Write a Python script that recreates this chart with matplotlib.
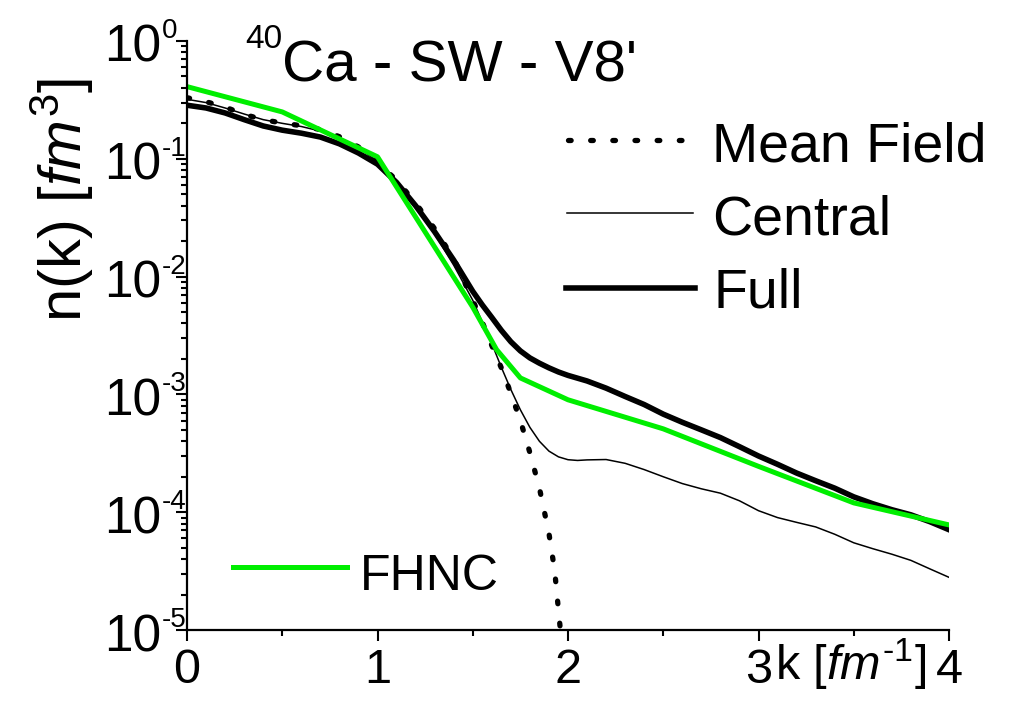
import matplotlib
matplotlib.use("Agg")
import matplotlib.pyplot as plt
import matplotlib.transforms as mtransforms
from matplotlib.ticker import MultipleLocator, LogLocator, NullFormatter

plt.rcParams["font.family"] = ["Liberation Sans", "DejaVu Sans"]
plt.rcParams["mathtext.fontset"] = "custom"
plt.rcParams["mathtext.rm"] = "Liberation Sans"
plt.rcParams["mathtext.it"] = "Liberation Sans:italic"
plt.rcParams["mathtext.bf"] = "Liberation Sans:bold"
plt.rcParams["axes.unicode_minus"] = False

# Momentum distribution n(k) [fm^3] versus k [fm^-1]
k_mf = [0.0, 0.1, 0.2, 0.3, 0.4, 0.5, 0.6, 0.7, 0.8, 0.9, 1.0, 1.1, 1.2, 1.3,
        1.4, 1.5, 1.55, 1.6, 1.65, 1.7, 1.75, 1.8, 1.85, 1.9, 1.93, 1.96]
n_mf = [0.33, 0.305, 0.275, 0.238, 0.215, 0.201, 0.191, 0.177, 0.154, 0.126,
        0.092, 0.066, 0.042, 0.0255, 0.0142, 0.0063, 0.0041, 0.0026, 0.00168,
        0.00102, 6.0e-4, 3.2e-4, 1.6e-4, 6.6e-5, 3.2e-5, 1.0e-5]

k_central = [0.0, 0.1, 0.2, 0.3, 0.4, 0.5, 0.6, 0.7, 0.8, 0.9, 1.0, 1.1, 1.2,
             1.3, 1.4, 1.5, 1.6, 1.65, 1.7, 1.75, 1.8, 1.85, 1.9, 1.95, 2.0,
             2.05, 2.1, 2.2, 2.3, 2.4, 2.5, 2.6, 2.7, 2.8, 2.9, 3.0, 3.1, 3.2,
             3.3, 3.4, 3.5, 3.6, 3.7, 3.8, 3.9, 4.0]
n_central = [0.32, 0.30, 0.27, 0.24, 0.215, 0.20, 0.188, 0.172, 0.150, 0.124,
             0.095, 0.065, 0.040, 0.023, 0.0125, 0.0063, 0.0027, 0.0017,
             0.0011, 7.4e-4, 5.25e-4, 4.0e-4, 3.3e-4, 2.95e-4, 2.79e-4,
             2.75e-4, 2.78e-4, 2.8e-4, 2.6e-4, 2.3e-4, 2.0e-4, 1.75e-4,
             1.58e-4, 1.45e-4, 1.25e-4, 1.03e-4, 9.0e-5, 8.2e-5, 7.5e-5,
             6.5e-5, 5.5e-5, 4.9e-5, 4.4e-5, 3.9e-5, 3.3e-5, 2.8e-5]

k_full = [0.0, 0.1, 0.2, 0.3, 0.4, 0.5, 0.6, 0.7, 0.8, 0.9, 1.0, 1.1, 1.2, 1.3,
          1.4, 1.5, 1.55, 1.6, 1.65, 1.7, 1.75, 1.8, 1.85, 1.9, 1.95, 2.0,
          2.1, 2.2, 2.3, 2.4, 2.5, 2.6, 2.7, 2.8, 2.9, 3.0, 3.1, 3.2, 3.3,
          3.4, 3.5, 3.6, 3.7, 3.8, 3.9, 4.0]
n_full = [0.285, 0.27, 0.245, 0.215, 0.19, 0.175, 0.165, 0.153, 0.134, 0.112,
          0.090, 0.063, 0.040, 0.024, 0.0138, 0.0075, 0.00575, 0.0045,
          0.0035, 0.0028, 0.00234, 0.00204, 0.00184, 0.00168, 0.00155,
          0.00145, 0.00130, 0.00113, 9.6e-4, 8.2e-4, 6.8e-4, 5.8e-4, 5.0e-4,
          4.3e-4, 3.6e-4, 3.0e-4, 2.55e-4, 2.15e-4, 1.85e-4, 1.6e-4, 1.35e-4,
          1.18e-4, 1.05e-4, 9.5e-5, 8.3e-5, 7.1e-5]

k_fhnc = [0.0, 0.5, 1.0, 1.5, 1.625, 1.75, 2.0, 2.5, 3.0, 3.5, 4.0]
n_fhnc = [0.41, 0.25, 0.104, 5.5e-3, 2.4e-3, 1.38e-3, 9.0e-4, 5.1e-4, 2.45e-4,
          1.2e-4, 7.8e-5]

x_ticks = [0, 1, 2, 3, 4]
y_exponents = [-5, -4, -3, -2, -1, 0]
title_mass = "40"
title_text = "Ca - SW - V8'"
labels = ["Mean Field", "Central", "Full", "FHNC"]

GREEN = "#00ee00"
styles = {
    "Mean Field": dict(color="black", lw=3.8, linestyle=(0, (0.5, 3.7)),
                       dash_capstyle="round"),
    "Central": dict(color="black", lw=1.1),
    "Full": dict(color="black", lw=4.0),
    "FHNC": dict(color=GREEN, lw=3.6),
}

fig = plt.figure(figsize=(10.16, 7.1), dpi=100)
ax = fig.add_axes([187 / 1016, 1 - 630 / 710, (949 - 187) / 1016, (630 - 41) / 710])

ax.plot(k_mf, n_mf, **styles["Mean Field"])
ax.plot(k_central, n_central, **styles["Central"])
ax.plot(k_full, n_full, **styles["Full"])
ax.plot(k_fhnc, n_fhnc, **styles["FHNC"])

ax.set_yscale("log")
ax.set_xlim(0, 4)
ax.set_ylim(1e-5, 1)
for side in ("top", "right"):
    ax.spines[side].set_visible(False)
for side in ("left", "bottom"):
    ax.spines[side].set_linewidth(1.6)

ax.set_xticks(x_ticks)
ax.set_xticklabels([str(t) for t in x_ticks])
ax.xaxis.set_minor_locator(MultipleLocator(0.5))
ax.set_yticks([10.0 ** e for e in y_exponents])
ax.yaxis.set_major_formatter(NullFormatter())
ax.yaxis.set_minor_locator(LogLocator(base=10, subs=range(2, 10), numticks=20))
ax.yaxis.set_minor_formatter(NullFormatter())
ax.tick_params(which="major", direction="out", length=8, width=1.5,
               labelsize=35, pad=5)
ax.tick_params(which="minor", direction="out", length=4.5, width=1.5)

# Decade labels: large "10" with a small exponent tucked against the axis
label_trans = mtransforms.blended_transform_factory(ax.transAxes, ax.transData)
base_shift = mtransforms.ScaledTranslation(0, -21 / 100, fig.dpi_scale_trans)
exp_shift = mtransforms.ScaledTranslation(0, 3 / 100, fig.dpi_scale_trans)
for e in y_exponents:
    ax.text(-0.034, 10.0 ** e, "10", transform=label_trans + base_shift,
            fontsize=37, ha="right", va="baseline")
    ax.text(-0.0325, 10.0 ** e, ("-%d" % -e) if e < 0 else "0",
            transform=label_trans + exp_shift, fontsize=20, ha="left",
            va="baseline")

ax.set_ylabel(r"n(k) [$\mathit{fm}^{3}$]", fontsize=43)
ax.yaxis.set_label_coords(-0.12, 0.73)

ax.set_xlabel(r"k [$\mathit{fm}^{\text{-}1}$]", fontsize=35)
ax.xaxis.set_label_coords(0.771, -0.085)
ax.xaxis.label.set_horizontalalignment("left")
ax.xaxis.label.set_verticalalignment("baseline")

fig.text(245 / 1016, 1 - 48 / 710, title_mass, fontsize=24, ha="left", va="baseline")
fig.text(282 / 1016, 1 - 82 / 710, title_text, fontsize=42, ha="left", va="baseline")


def legend_entry(x0, x1, y, tx, ty, label, size):
    ax.plot([x0, x1], [y, y], transform=ax.transAxes, clip_on=False,
            **styles[label])
    ax.text(tx, ty, label, transform=ax.transAxes, fontsize=size,
            ha="left", va="baseline")


legend_entry(0.500, 0.656, 0.832, 0.689, 0.795, labels[0], 40)
legend_entry(0.499, 0.664, 0.708, 0.689, 0.671, labels[1], 40)
legend_entry(0.497, 0.667, 0.581, 0.691, 0.547, labels[2], 40)
legend_entry(0.060, 0.210, 0.107, 0.227, 0.068, labels[3], 36)

fig.savefig("out.png", dpi=100)
